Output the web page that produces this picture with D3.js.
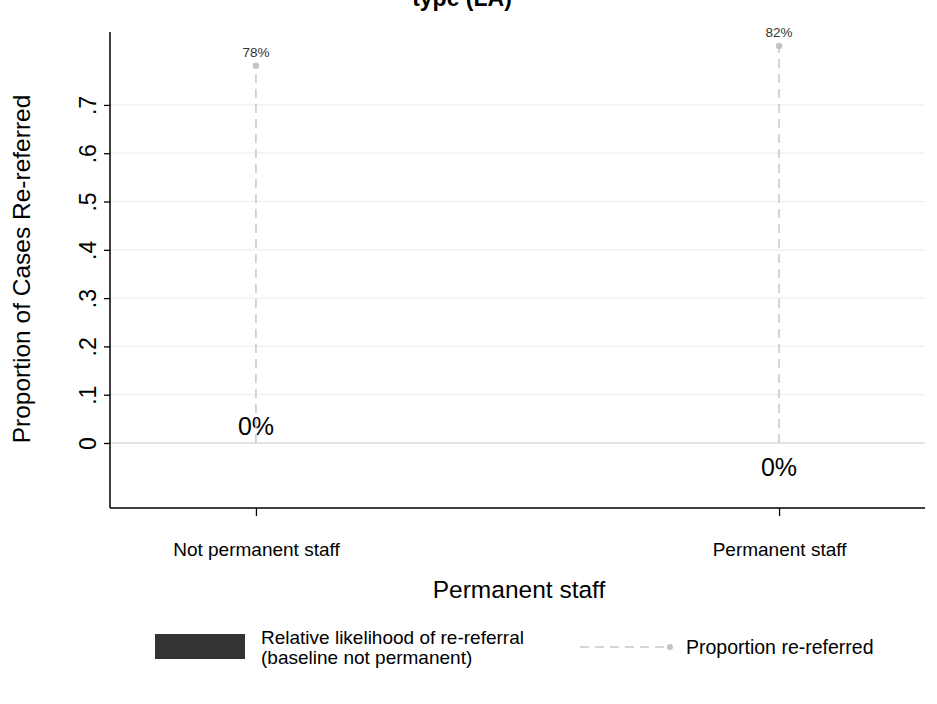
<!DOCTYPE html>
<html><head><meta charset="utf-8">
<script src="https://cdn.jsdelivr.net/npm/d3@7"></script>
<style>body{margin:0;background:#fff;} svg{display:block;font-family:"Liberation Sans",Arial,sans-serif;}</style>
</head><body>
<svg id="c" width="937" height="704"></svg>
<script>
const categories = ["Not permanent staff", "Permanent staff"];
const proportionReferred = [0.781, 0.822];
const proportionLabels = ["78%", "82%"];
const relativeLikelihood = [0, -0.0005];
const relativeLabels = ["0%", "0%"];
const yTicks = [0, 0.1, 0.2, 0.3, 0.4, 0.5, 0.6, 0.7];
const yTickLabels = ["0", ".1", ".2", ".3", ".4", ".5", ".6", ".7"];

const svg = d3.select("#c");
const L = 110, R = 925, T = 32, B = 508;
const y = d3.scaleLinear().domain([-0.1346, 0.851]).range([B, T]);
const x = d3.scalePoint().domain(categories).range([L, R]).padding(0.279);

// title (clipped at top)
svg.append("text").attr("x", 462).attr("y", 6).attr("text-anchor", "middle")
  .attr("font-size", 23).attr("font-weight", "bold").attr("fill", "#000").text("type (LA)");

// gridlines
svg.append("g").selectAll("line").data(yTicks.filter(d => d > 0)).join("line")
  .attr("x1", L).attr("x2", R).attr("y1", d => y(d)).attr("y2", d => y(d))
  .attr("stroke", "#eaf0f2").attr("stroke-width", 1.2);
// zero line
svg.append("line").attr("x1", L).attr("x2", R).attr("y1", y(0)).attr("y2", y(0))
  .attr("stroke", "#c8c8c8").attr("stroke-width", 1.2);

// y axis
const yAxis = d3.axisLeft(y).tickValues(yTicks).tickSize(6).tickFormat((d, i) => yTickLabels[i]);
const gy = svg.append("g").attr("transform", `translate(${L},0)`).call(yAxis);
gy.select(".domain").attr("d", `M0,${T}V${B}`).attr("stroke", "#000").attr("stroke-width", 1.5);
gy.selectAll(".tick line").attr("stroke", "#000").attr("stroke-width", 1.3);
gy.selectAll(".tick text").attr("font-size", 23).attr("fill", "#000")
  .attr("font-family", "Liberation Sans, Arial, sans-serif")
  .attr("x", 0).attr("y", 0).attr("dy", null).attr("text-anchor", "middle")
  .attr("transform", "translate(-14,0) rotate(-90)");

// x axis
const xAxis = d3.axisBottom(x).tickSize(8).tickFormat(d => d);
const gx = svg.append("g").attr("transform", `translate(0,${B})`).call(xAxis);
gx.select(".domain").attr("d", `M${L},0H${R}`).attr("stroke", "#000").attr("stroke-width", 1.5);
gx.selectAll(".tick line").attr("stroke", "#000").attr("stroke-width", 1.3);
gx.selectAll(".tick text").attr("font-size", 19).attr("fill", "#000")
  .attr("font-family", "Liberation Sans, Arial, sans-serif").attr("y", 48).attr("dy", 0);

// axis titles
svg.append("text").attr("transform", "translate(30,269) rotate(-90)").attr("text-anchor", "middle")
  .attr("font-size", 24.5).attr("fill", "#000").text("Proportion of Cases Re-referred");
svg.append("text").attr("x", 519).attr("y", 598).attr("text-anchor", "middle")
  .attr("font-size", 24.5).attr("fill", "#000").text("Permanent staff");

// bars (relative likelihood)
svg.append("g").attr("shape-rendering", "crispEdges").selectAll("rect").data(relativeLikelihood).join("rect")
  .attr("x", (d, i) => x(categories[i]) - 40).attr("width", 80)
  .attr("y", d => y(Math.max(0, d))).attr("height", d => Math.abs(y(d) - y(0)))
  .attr("fill", "#333");
svg.append("g").selectAll("text").data(relativeLikelihood).join("text")
  .attr("x", (d, i) => x(categories[i]))
  .attr("y", d => d >= 0 ? y(d) - 8 : y(d) + 33)
  .attr("text-anchor", "middle").attr("font-size", 25).attr("fill", "#000")
  .text((d, i) => relativeLabels[i]);

// lollipop (proportion re-referred)
svg.append("g").selectAll("line").data(proportionReferred).join("line")
  .attr("x1", (d, i) => x(categories[i])).attr("x2", (d, i) => x(categories[i]))
  .attr("y1", y(0)).attr("y2", d => y(d))
  .attr("stroke", "#c8c8c8").attr("stroke-width", 1.5).attr("stroke-dasharray", "9,6");
svg.append("g").selectAll("circle").data(proportionReferred).join("circle")
  .attr("cx", (d, i) => x(categories[i])).attr("cy", d => y(d)).attr("r", 3.2)
  .attr("fill", "#c4c4c4");
svg.append("g").selectAll("text").data(proportionReferred).join("text")
  .attr("x", (d, i) => x(categories[i])).attr("y", d => y(d) - 9)
  .attr("text-anchor", "middle").attr("font-size", 13.5).attr("fill", "#333")
  .text((d, i) => proportionLabels[i]);

// legend
const lg = svg.append("g");
lg.append("rect").attr("x", 155).attr("y", 634).attr("width", 90).attr("height", 25).attr("fill", "#333");
lg.append("text").attr("x", 261).attr("y", 644).attr("font-size", 19).attr("fill", "#000").text("Relative likelihood of re-referral");
lg.append("text").attr("x", 261).attr("y", 664).attr("font-size", 19).attr("fill", "#000").text("(baseline not permanent)");
lg.append("line").attr("x1", 580).attr("x2", 668).attr("y1", 647).attr("y2", 647)
  .attr("stroke", "#c8c8c8").attr("stroke-width", 1.5).attr("stroke-dasharray", "9,6");
lg.append("circle").attr("cx", 670).attr("cy", 647).attr("r", 3).attr("fill", "#c4c4c4");
lg.append("text").attr("x", 686).attr("y", 654).attr("font-size", 19.5).attr("fill", "#000").text("Proportion re-referred");
</script>
</body></html>
